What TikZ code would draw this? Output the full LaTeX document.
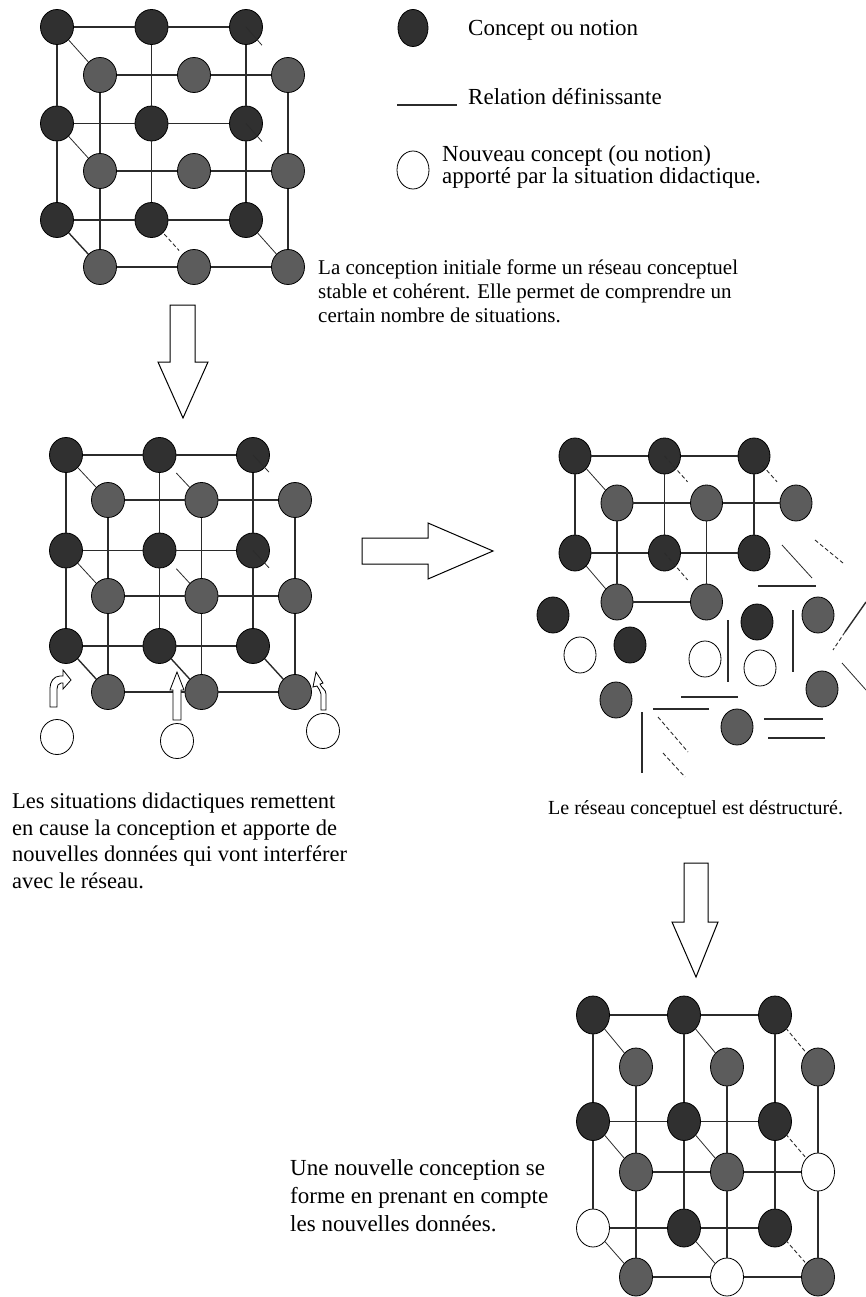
\documentclass[tikz,border=0pt]{standalone}
\usepackage{fontspec}
\setmainfont{Liberation Serif}
\usepackage{tikz}
\usetikzlibrary{shapes.geometric,calc}
\definecolor{Ink}{HTML}{2B2B2B}
\definecolor{Dark}{HTML}{303030}
\definecolor{Mid}{HTML}{5C5C5C}

\begin{document}
\begin{tikzpicture}[x=1pt,y=-1pt,every node/.style={font=\fontsize{21}{24}\selectfont},
  cpt/.style={ellipse,draw=black,line width=0.8pt,inner sep=0pt,minimum width=33pt,minimum height=35pt},
  dk/.style={cpt,fill=Dark},
  gy/.style={cpt,fill=Mid},
  nw/.style={cpt,fill=white},
  sizeC/.style={minimum width=32pt,minimum height=36pt},
  sizeD/.style={minimum width=33pt,minimum height=38pt},
  link/.style={draw=Ink,line width=1.4pt},
  thinlink/.style={draw=Ink,line width=0.8pt},
  brokenlink/.style={draw=Ink,line width=0.9pt,dash pattern=on 4pt off 2.5pt},
  txt/.style={anchor=base west,align=left,inner sep=0pt},
  bigarrow/.style={draw=black,line width=1pt,fill=white,line join=miter},
  smallarrow/.style={draw=black,line width=0.8pt,fill=white}]
\useasboundingbox (0,0) rectangle (866,1297);

% legend (base anchor = last line)
\node[dk,minimum width=30pt,minimum height=37pt] (key-cpt) at (413,28) {};
\node[txt,font=\fontsize{23}{24}\selectfont] (key-cpt-text) at (468,36) {Concept ou notion};
\coordinate (key-rel) at (397,105);
\draw[link] (key-rel) -- ++(60,0);
\node[txt,font=\fontsize{23}{24}\selectfont] (key-rel-text) at (468,105) {Relation définissante};
\node[nw,minimum width=32pt,minimum height=38pt] (key-new) at (413,170) {};
\node[txt,font=\fontsize{23}{22}\selectfont] (key-new-text) at (442,184)
  {Nouveau concept (ou notion)\\apporté par la situation didactique.};

% initial conception
\foreach \i in {0,1,2}
  \foreach \j in {0,1,2} {
    \node[dk] (A-d-\i-\j) at ({57+94.5*\i},{27+96.5*\j}) {};
    \node[gy] (A-g-\i-\j) at ({100+94*\i},{75+96*\j}) {};
  }
\foreach \j in {0,1,2} {
  \draw[link] (A-d-0-\j) -- (A-d-1-\j) -- (A-d-2-\j);
  \draw[link] (A-g-0-\j) -- (A-g-1-\j) -- (A-g-2-\j);
}
\foreach \i in {0,1,2}
  \draw[link] (A-d-\i-0) -- (A-d-\i-1) -- (A-d-\i-2);
\foreach \i in {0,2}
  \draw[link] (A-g-\i-0) -- (A-g-\i-1) -- (A-g-\i-2);
\draw[thinlink] (A-d-0-0) -- (A-g-0-0);
\draw[thinlink] (A-d-0-1) -- (A-g-0-1);
\draw[link] (A-d-0-2) -- (A-g-0-2);
\draw[thinlink] (A-d-2-2) -- (A-g-2-2);
\draw[brokenlink] ($(A-d-1-2)!0.3!(A-g-1-2)$) -- ($(A-d-1-2)!0.65!(A-g-1-2)$);
\foreach \j in {0,1}
  \draw[thinlink] (A-d-2-\j.center) -- ($(A-d-2-\j)!0.38!(A-g-2-\j)$);

\node[txt] (intro-text) at (318,322)
  {La conception initiale forme un réseau conceptuel\\stable et cohérent. Elle permet de comprendre un\\certain nombre de situations.};

\draw[bigarrow] (170,305) -- (195,305) -- (195,362) -- (208,362) -- (183,418) -- (158,362) -- (170,362) -- cycle;

% didactic situations
\foreach \i in {0,1,2}
  \foreach \j in {0,1,2} {
    \node[dk] (B-d-\i-\j) at ({66+93.5*\i},{455+95.5*\j}) {};
    \node[gy] (B-g-\i-\j) at ({108+93.5*\i},{500+96*\j}) {};
  }
\foreach \j in {0,1,2} {
  \draw[link] (B-d-0-\j) -- (B-d-1-\j) -- (B-d-2-\j);
  \draw[link] (B-g-0-\j) -- (B-g-1-\j) -- (B-g-2-\j);
}
\foreach \i in {0,1,2} {
  \draw[link] (B-d-\i-0) -- (B-d-\i-1) -- (B-d-\i-2);
  \draw[link] (B-g-\i-0) -- (B-g-\i-1) -- (B-g-\i-2);
  \draw[link] (B-d-\i-2) -- (B-g-\i-2);
}
\foreach \j in {0,1} {
  \draw[thinlink] (B-d-0-\j) -- (B-g-0-\j);
  \draw[thinlink] ($(B-d-1-\j)!0.4!(B-g-1-\j)$) -- (B-g-1-\j);
  \draw[thinlink] (B-d-2-\j.center) -- ($(B-d-2-\j)!0.38!(B-g-2-\j)$);
}
\node[nw] (B-n-0) at (57,737) {};
\node[nw] (B-n-1) at (177,741) {};
\node[nw] (B-n-2) at (323,731) {};
\draw[smallarrow] (50,707) -- (50,688) to[out=90,in=180] (60,676) -- (63,676) -- (63,670)
  -- (71,680) -- (63,689) -- (63,683) -- (61,683) to[out=180,in=90] (57,689) -- (57,707) -- cycle;
\draw[smallarrow] (173,720) -- (173,690) -- (170,690) -- (177,672) -- (184,690) -- (181,690) -- (181,720) -- cycle;
\draw[smallarrow] (321,710) -- (321,694) to[out=90,in=-70] (317,686) -- (313,687) -- (316,672)
  -- (323,683) -- (320,684) to[out=-70,in=90] (326,694) -- (326,710) -- cycle;

\node[txt,font=\fontsize{22.5}{26.5}\selectfont] (situ-text) at (12,888)
  {Les situations didactiques remettent\\en cause la conception et apporte de\\nouvelles données qui vont interférer\\avec le réseau.};

\draw[bigarrow] (362,538) -- (428,538) -- (428,523) -- (493,551) -- (428,579) -- (428,564) -- (362,564) -- cycle;

% broken network
\foreach \i in {0,1,2}
  \foreach \j in {0,1}
    \node[dk,sizeC] (C-d-\i-\j) at ({575+89.5*\i},{456+97*\j}) {};
\foreach \i/\j in {0/0,1/0,2/0,0/1,1/1}
  \node[gy,sizeC] (C-g-\i-\j) at ({617+89.5*\i},{503+99*\j}) {};
\foreach \j in {0,1}
  \draw[link] (C-d-0-\j) -- (C-d-1-\j) -- (C-d-2-\j);
\foreach \i in {0,1,2}
  \draw[link] (C-d-\i-0) -- (C-d-\i-1);
\draw[link] (C-g-0-0) -- (C-g-1-0) -- (C-g-2-0);
\draw[link] (C-g-0-1) -- (C-g-1-1);
\foreach \i in {0,1}
  \draw[link] (C-g-\i-0) -- (C-g-\i-1);
\foreach \j in {0,1} {
  \draw[thinlink] (C-d-0-\j) -- (C-g-0-\j);
  \draw[brokenlink] (C-d-1-\j.center) -- ($(C-d-1-\j)!0.55!(C-g-1-\j)$);
}
\draw[brokenlink] ($(C-d-2-0)!0.2!(C-g-2-0)$) -- ($(C-d-2-0)!0.55!(C-g-2-0)$);
\node[dk,sizeC] (C-x-1) at (553,615) {};
\node[nw,sizeC] (C-x-2) at (580,655) {};
\node[dk,sizeC] (C-x-3) at (630,645) {};
\node[gy,sizeC] (C-x-4) at (616,700) {};
\node[nw,sizeC] (C-x-5) at (705,659) {};
\node[dk,sizeC] (C-x-6) at (757,622) {};
\node[nw,sizeC] (C-x-7) at (760,668) {};
\node[gy,sizeC] (C-x-8) at (818,615) {};
\node[gy,sizeC] (C-x-9) at (822,689) {};
\node[gy,sizeC] (C-x-10) at (737,727) {};
\draw[thinlink] (782,545) -- (812,578);
\draw[brokenlink] (815,540) -- (843,563);
\draw[link] (758,586) -- (816,586);
\draw[link] (728,620) -- (728,682);
\draw[link] (793,610) -- (793,672);
\draw[link] (866,602) -- (845,632);
\draw[brokenlink] (845,632) -- (833,650);
\draw[thinlink] (842,663) -- (866,690);
\draw[link] (681,697) -- (738,697);
\draw[link] (653,709) -- (709,709);
\draw[link] (642,712) -- (642,773);
\draw[brokenlink] (658,717) -- (688,752);
\draw[brokenlink] (663,753) -- (685,777);
\draw[link] (764,719) -- (823,719);
\draw[link] (768,738) -- (825,738);

\node[txt,font=\fontsize{20}{24}\selectfont] (broken-text) at (548,814) {Le réseau conceptuel est déstructuré.};

\draw[bigarrow] (684,863) -- (708,863) -- (708,922) -- (718,922) -- (696,977) -- (672,922) -- (684,922) -- cycle;

% new conception
\foreach \i/\j/\s in {0/0/dk,1/0/dk,2/0/dk,0/1/dk,1/1/dk,2/1/dk,0/2/nw,1/2/dk,2/2/dk}
  \node[\s,sizeD] (D-d-\i-\j) at ({593+91*\i},{1015+106.5*\j}) {};
\foreach \i/\j/\s in {0/0/gy,1/0/gy,2/0/gy,0/1/gy,1/1/gy,2/1/nw,0/2/gy,1/2/nw,2/2/gy}
  \node[\s,sizeD] (D-g-\i-\j) at ({636+91*\i},{1067+105*\j}) {};
\foreach \j in {0,1,2}
  \draw[link] (D-d-0-\j) -- (D-d-1-\j) -- (D-d-2-\j);
\foreach \j in {1,2}
  \draw[link] (D-g-0-\j) -- (D-g-1-\j) -- (D-g-2-\j);
\foreach \i in {0,1,2} {
  \draw[link] (D-d-\i-0) -- (D-d-\i-1) -- (D-d-\i-2);
  \draw[link] (D-g-\i-0) -- (D-g-\i-1) -- (D-g-\i-2);
}
\foreach \j in {0,1,2} {
  \draw[thinlink] (D-d-0-\j) -- (D-g-0-\j);
  \draw[thinlink] (D-d-1-\j) -- (D-g-1-\j);
  \draw[brokenlink] ($(D-d-2-\j)!0.25!(D-g-2-\j)$) -- ($(D-d-2-\j)!0.7!(D-g-2-\j)$);
}

\node[txt,font=\fontsize{23}{28}\selectfont] (new-text) at (290,1231)
  {Une nouvelle conception se\\forme en prenant en compte\\les nouvelles données.};
\end{tikzpicture}
\end{document}
